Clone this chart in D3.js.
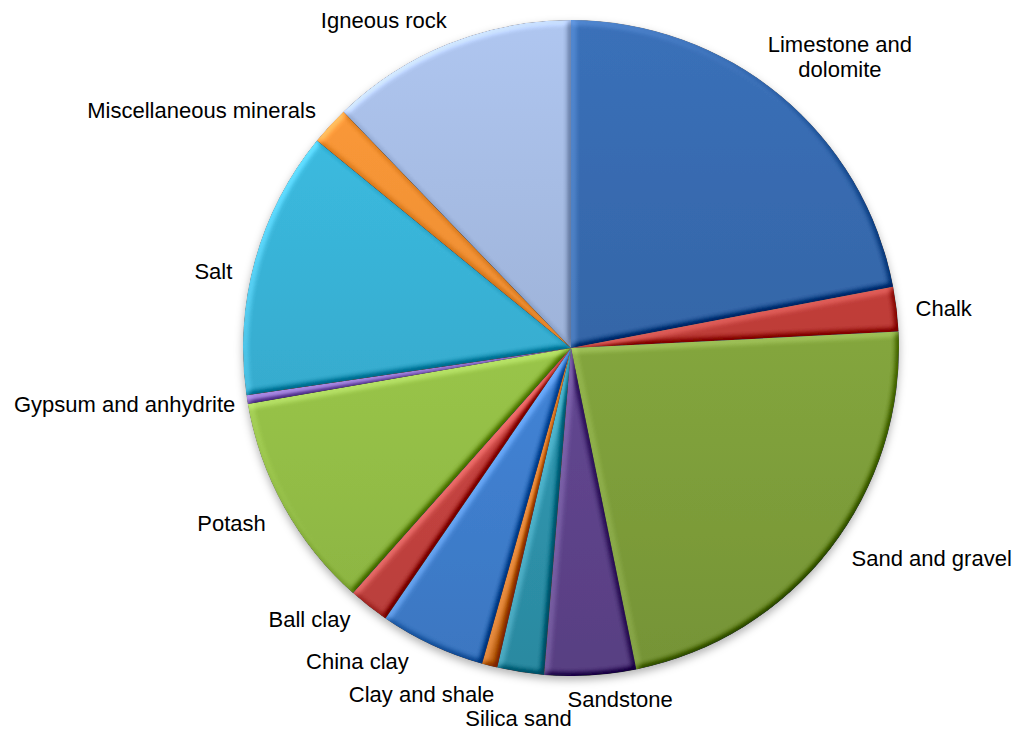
<!DOCTYPE html>
<html>
<head>
<meta charset="utf-8">
<script src="https://cdn.jsdelivr.net/npm/d3@7"></script>
<style>
  html, body { margin: 0; padding: 0; background: #fff; }
  svg { display: block; }
  text { font-family: "Liberation Sans", Arial, sans-serif; font-size: 22px; fill: #000; }
</style>
</head>
<body>
<svg id="chart" width="1020" height="731"></svg>
<script>
// ---- data (share of output, %) ----
const categories = [
  "Limestone and dolomite", "Chalk", "Sand and gravel", "Sandstone", "Silica sand",
  "Clay and shale", "China clay", "Ball clay", "Potash", "Gypsum and anhydrite",
  "Salt", "Miscellaneous minerals", "Igneous rock"
];
const values = [22.0, 2.2, 22.6, 4.5, 2.3, 0.76, 5.2, 2.0, 10.7, 0.42, 13.2, 1.9, 12.2];
const colors = [
  "#3465a6", "#bc3c38", "#82a43c", "#624691", "#3099b2",
  "#d87420", "#4283d6", "#cb4542", "#98c448", "#8c6cc8",
  "#37add0", "#f08c33", "#9db2d8"
];

// ---- layout ----
const W = 1020, H = 731;
const cx = 571, cy = 348, r = 328;
const labelPad = 12;
const lineH = 25;
// per-label placement adjustments (collision avoidance as in the original)
const labelNudge = [[-20,-10],[7,2],[12,-6],[26,-1],[8,22],[-47,5],[-18,-6],[-11,-6],[-8,4],[0,1],[-11,17],[-5,1],[3,-1]];

const svg = d3.select("#chart");
const defs = svg.append("defs");

// gradients (lighter at top, darker at bottom), in the pie's local coordinates
colors.forEach((c, i) => {
  const g = defs.append("linearGradient")
    .attr("id", "grad" + i)
    .attr("gradientUnits", "userSpaceOnUse")
    .attr("x1", 0).attr("y1", -r).attr("x2", 0).attr("y2", r);
  g.append("stop").attr("offset", "0%").attr("stop-color", d3.color(c).brighter(0.3).formatHex());
  g.append("stop").attr("offset", "100%").attr("stop-color", d3.color(c).darker(0.3).formatHex());
});

// bevel filter
const bevel = defs.append("filter").attr("id", "bevel")
  .attr("filterUnits", "userSpaceOnUse")
  .attr("x", -W).attr("y", -H).attr("width", 2 * W).attr("height", 2 * H)
  .attr("color-interpolation-filters", "sRGB");
bevel.append("feGaussianBlur").attr("in", "SourceAlpha").attr("stdDeviation", 3).attr("result", "b");
const diff = bevel.append("feDiffuseLighting").attr("in", "b")
  .attr("surfaceScale", 3).attr("diffuseConstant", 1.41)
  .attr("lighting-color", "#808080").attr("result", "d");
diff.append("feDistantLight").attr("azimuth", 225).attr("elevation", 45);
bevel.append("feComposite").attr("in", "SourceGraphic").attr("in2", "d")
  .attr("operator", "arithmetic").attr("k1", 0).attr("k2", 1).attr("k3", 0.8).attr("k4", -0.4)
  .attr("result", "c");
bevel.append("feComposite").attr("in", "c").attr("in2", "SourceAlpha").attr("operator", "in");

// drop shadow
const shadow = defs.append("filter").attr("id", "shadow")
  .attr("filterUnits", "userSpaceOnUse")
  .attr("x", -W).attr("y", -H).attr("width", 2 * W).attr("height", 2 * H);
shadow.append("feDropShadow").attr("dx", 0).attr("dy", 4).attr("stdDeviation", 4)
  .attr("flood-color", "#000").attr("flood-opacity", 0.3);

const data = categories.map((c, i) => ({ name: c, value: values[i], i }));

const pie = d3.pie().sort(null).value(d => d.value);
const arcs = pie(data);
const arc = d3.arc().innerRadius(0).outerRadius(r);

const gPie = svg.append("g")
  .attr("transform", `translate(${cx},${cy})`)
  .attr("filter", "url(#shadow)");

gPie.selectAll("path.slice")
  .data(arcs)
  .join("path")
  .attr("class", "slice")
  .attr("d", arc)
  .attr("fill", d => `url(#grad${d.data.i})`)
  .attr("filter", "url(#bevel)");

// labels
const gLab = svg.append("g");
arcs.forEach((a, k) => {
  const mid = (a.startAngle + a.endAngle) / 2;
  const s = Math.sin(mid), c = Math.cos(mid);
  const R = r + labelPad;
  const px = cx + R * s, py = cy - R * c;
  const lines = a.data.name === "Limestone and dolomite" ? ["Limestone and", "dolomite"] : [a.data.name];
  const h = lines.length * lineH;
  const t = gLab.append("text");
  const spans = lines.map(ln => t.append("tspan").text(ln));
  const w = d3.max(spans, sp => sp.node().getComputedTextLength());
  let anchorX, textAnchor;
  if (lines.length > 1) {
    textAnchor = "middle";
    anchorX = px + w / 2;
  } else if (Math.abs(s) < 0.3) {
    textAnchor = "middle";
    anchorX = px + s * w / 2;
  } else {
    textAnchor = s > 0 ? "start" : "end";
    anchorX = px;
  }
  const centerY = py - c * h / 2;
  const nx = anchorX + labelNudge[k][0];
  const ny = centerY + labelNudge[k][1];
  t.attr("text-anchor", textAnchor);
  spans.forEach((sp, j) => {
    sp.attr("x", nx)
      .attr("y", ny + (j - (lines.length - 1) / 2) * lineH)
      .attr("dy", "0.35em");
  });
});
</script>
</body>
</html>
